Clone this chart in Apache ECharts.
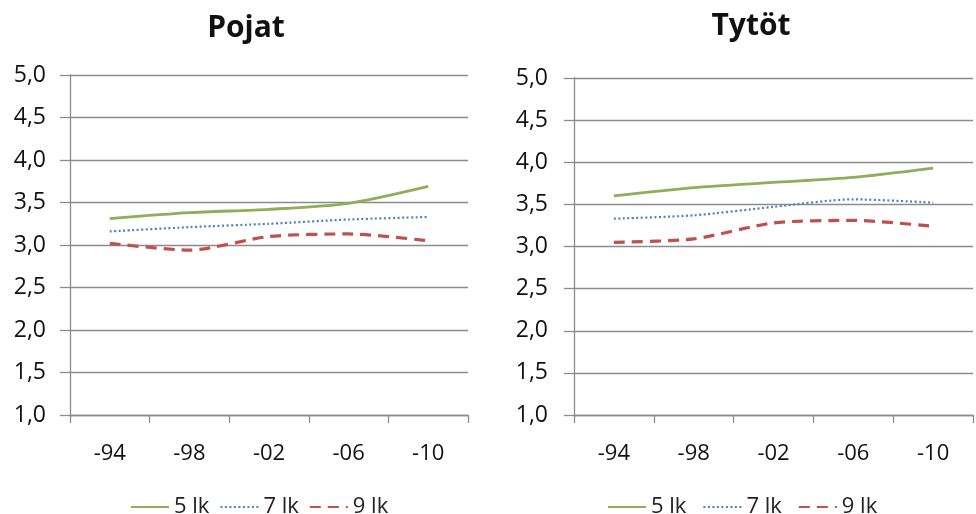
<!DOCTYPE html>
<html>
<head>
<meta charset="utf-8">
<script src="https://cdn.jsdelivr.net/npm/echarts@6/dist/echarts.min.js"></script>
<style>
html,body{margin:0;padding:0;background:#fff;}
#chart{width:976px;height:514px;}
</style>
</head>
<body>
<div id="chart"></div>
<script>
var categories = ['-94', '-98', '-02', '-06', '-10'];
var seriesNames = ['5 lk', '7 lk', '9 lk'];
var titles = ['Pojat', 'Tytöt'];

// Pojat (boys)
var pojat5 = [3.31, 3.38, 3.42, 3.49, 3.69];
var pojat7 = [3.16, 3.21, 3.25, 3.30, 3.33];
var pojat9 = [3.02, 2.94, 3.10, 3.13, 3.05];

// Tytöt (girls)
var tytot5 = [3.60, 3.70, 3.76, 3.82, 3.93];
var tytot7 = [3.33, 3.37, 3.47, 3.56, 3.52];
var tytot9 = [3.05, 3.09, 3.28, 3.31, 3.24];

var yTicks = {min: 1, max: 5, interval: 0.5};

var colors = ['#8fad5a', '#4f81bd', '#c0504d'];
var lineStyles = [
  {width: 2.8, type: 'solid'},
  {width: 2.2, type: [2, 2.5]},
  {width: 3.2, type: [11, 7]}
];
var font = '"Open Sans", "Noto Sans", sans-serif';

function fmt(v) { return v.toFixed(1).replace('.', ','); }

function makeX(gi) {
  return {
    type: 'category', gridIndex: gi, data: categories, boundaryGap: true,
    axisLine: {lineStyle: {color: '#8c8c8c', width: 1.3}},
    axisTick: {show: true, length: 8, inside: false, lineStyle: {color: '#8c8c8c', width: 1.3}},
    axisLabel: {color: '#111', fontSize: 22, fontFamily: font, margin: 28}
  };
}
function makeY(gi, margin) {
  return {
    type: 'value', gridIndex: gi, min: yTicks.min, max: yTicks.max, interval: yTicks.interval,
    axisLine: {show: true, lineStyle: {color: '#8c8c8c', width: 1.3}},
    axisTick: {show: true, length: 10, lineStyle: {color: '#8c8c8c', width: 1.3}},
    splitLine: {show: true, lineStyle: {color: '#8c8c8c', width: 1.3}},
    axisLabel: {color: '#111', fontSize: 23, fontFamily: font, margin: margin, formatter: fmt}
  };
}
function makeSeries(gi, data) {
  return data.map(function (d, i) {
    return {
      name: seriesNames[i], type: 'line', xAxisIndex: gi, yAxisIndex: gi,
      data: d, smooth: 0.25, showSymbol: false, symbol: 'none',
      lineStyle: {color: colors[i], width: lineStyles[i].width, type: lineStyles[i].type},
      itemStyle: {color: colors[i]},
      animation: false
    };
  });
}

function makeLegend(left, gap) {
  return {
    data: seriesNames, left: left, top: 496, itemWidth: 38, itemHeight: 14, itemGap: gap,
    padding: 0,
    itemStyle: {opacity: 0},
    textStyle: {fontSize: 22, fontFamily: font, color: '#222'}
  };
}

var chart = echarts.init(document.getElementById('chart'));
chart.setOption({
  backgroundColor: '#fff',
  animation: false,
  title: [
    {text: titles[0], left: 241, top: 8, textAlign: 'center',
     textStyle: {fontSize: 30, fontWeight: 'bold', fontFamily: font, color: '#111'}},
    {text: titles[1], left: 746, top: 6, textAlign: 'center',
     textStyle: {fontSize: 30, fontWeight: 'bold', fontFamily: font, color: '#111'}}
  ],
  legend: [makeLegend(130, 10), makeLegend(607, 16)],
  grid: [
    {left: 70, right: 508, top: 75, bottom: 99, containLabel: false},
    {left: 574, right: 3, top: 78, bottom: 99, containLabel: false}
  ],
  xAxis: [makeX(0), makeX(1)],
  yAxis: [makeY(0, 24), makeY(1, 26)],
  series: makeSeries(0, [pojat5, pojat7, pojat9]).concat(makeSeries(1, [tytot5, tytot7, tytot9]))
});
</script>
</body>
</html>
